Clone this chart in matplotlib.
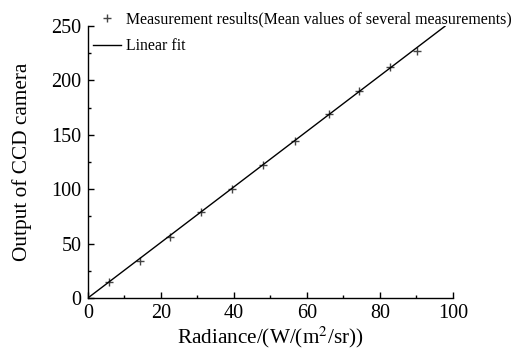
import matplotlib
matplotlib.use('Agg')
import matplotlib.pyplot as plt
from matplotlib.ticker import MultipleLocator

# measured radiance vs CCD output (mean of several measurements)
radiance = [5.7, 14.2, 22.5, 31.1, 39.5, 47.9, 56.7, 65.9, 74.3, 82.8, 90.2]
ccd_output = [15, 34, 56, 79.3, 100, 122, 144.6, 168.8, 190.5, 212, 227]

# linear fit y = k*x + b
fit_k = 2.555
fit_b = 0.0
fit_x = [0, 97.8]

plt.rcParams['font.family'] = ['Liberation Serif', 'DejaVu Serif']
plt.rcParams['mathtext.fontset'] = 'stix'

fig = plt.figure(figsize=(5.25, 3.53), dpi=100)
ax = fig.add_axes([0.1676, 0.156, 0.6952, 0.770])

ax.plot(radiance, ccd_output, '+', color='#444444', markersize=6, markeredgewidth=1.0,
        label='Measurement results(Mean values of several measurements)')
ax.plot(fit_x, [fit_k * x + fit_b for x in fit_x], '-', color='black', lw=1.0,
        label='Linear fit')

ax.set_xlim(0, 100)
ax.set_ylim(0, 250)
ax.xaxis.set_major_locator(MultipleLocator(20))
ax.xaxis.set_minor_locator(MultipleLocator(10))
ax.yaxis.set_major_locator(MultipleLocator(50))
ax.yaxis.set_minor_locator(MultipleLocator(25))

for s in ['top', 'right']:
    ax.spines[s].set_visible(False)
for s in ['left', 'bottom']:
    ax.spines[s].set_linewidth(1.0)

ax.tick_params(which='major', direction='in', length=4, width=1.0, labelsize=14.5, pad=4.5)
ax.tick_params(which='minor', direction='in', length=2.5, width=1.0)

ax.set_xlabel('Radiance/(W/(m$^2$/sr))', fontsize=15.3, labelpad=1)
ax.set_ylabel('Output of CCD camera', fontsize=15.3, labelpad=14)

fig.legend(loc='upper left', bbox_to_anchor=(0.177, 0.968), frameon=False,
           fontsize=11.4, borderpad=0, borderaxespad=0, handlelength=1.8,
           handletextpad=0.3, labelspacing=0.7)

fig.savefig('out.png', dpi=100)
